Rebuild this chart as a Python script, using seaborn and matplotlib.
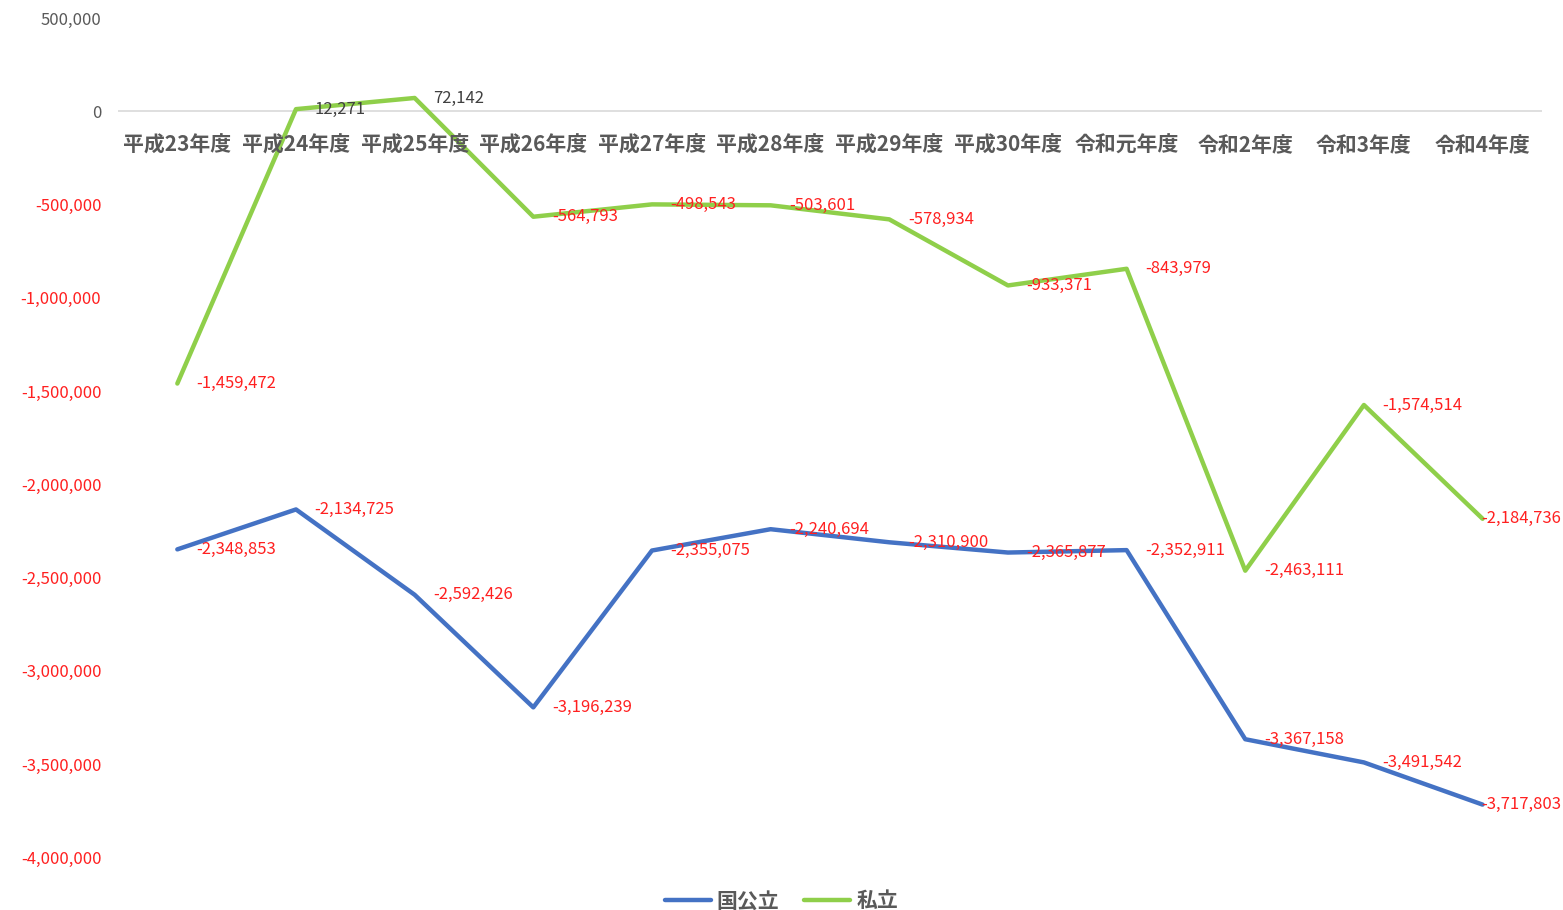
import matplotlib
matplotlib.use("Agg")
import matplotlib.pyplot as plt
import seaborn as sns
import pandas as pd
from matplotlib.ticker import FuncFormatter

categories = ["平成23年度", "平成24年度", "平成25年度", "平成26年度", "平成27年度", "平成28年度",
              "平成29年度", "平成30年度", "令和元年度", "令和2年度", "令和3年度", "令和4年度"]
national = [-2348853, -2134725, -2592426, -3196239, -2355075, -2240694,
            -2310900, -2365877, -2352911, -3367158, -3491542, -3717803]
private = [-1459472, 12271, 72142, -564793, -498543, -503601,
           -578934, -933371, -843979, -2463111, -1574514, -2184736]
series_names = ["国公立", "私立"]
colors = {"国公立": "#4472C4", "私立": "#8FCF4A"}

sns.set_theme(style="white")
plt.rcParams['font.family'] = ['Noto Sans CJK JP', 'DejaVu Sans']

rows = []
for i, c in enumerate(categories):
    rows.append({"x": i, "cat": c, "value": national[i], "series": series_names[0]})
    rows.append({"x": i, "cat": c, "value": private[i], "series": series_names[1]})
df = pd.DataFrame(rows)

fig = plt.figure(figsize=(15.63, 9.10), dpi=100)
ax = fig.add_axes([0.0755, 0.058, 0.911, 0.922])

sns.lineplot(data=df, x="x", y="value", hue="series", palette=colors, linewidth=3.2,
             ax=ax, legend=False, sort=False)

ax.set_xlim(-0.5, len(categories) - 0.5)
ax.set_ylim(-4000000, 500000)
ax.set_yticks(range(-4000000, 500001, 500000))

def fmt(v, pos=None):
    return f"{int(v):,}"
ax.yaxis.set_major_formatter(FuncFormatter(fmt))
ax.tick_params(axis='y', length=0, pad=12, labelsize=12)
for lab, v in zip(ax.get_yticklabels(), ax.get_yticks()):
    lab.set_color("#FF2020" if v < 0 else "#595959")

ax.set_xticks([])
ax.set_xlabel("")
ax.set_ylabel("")
for s in ax.spines.values():
    s.set_visible(False)
ax.axhline(0, color="#D9D9D9", linewidth=1.2, zorder=0)

for i, c in enumerate(categories):
    ax.annotate(c, xy=(i, 0), xytext=(0, -17), textcoords="offset points",
                ha="center", va="top", fontsize=15, fontweight="bold", color="#595959")

last = len(categories) - 1
for vals in (national, private):
    for i, v in enumerate(vals):
        dx = -1 if i == last else 13.5
        ax.annotate(fmt(v), xy=(i, v), xytext=(dx, 0), textcoords="offset points",
                    ha="left", va="center", fontsize=12,
                    color="#FF2020" if v < 0 else "#404040")

handles = [plt.Line2D([], [], color=colors[n], linewidth=3.2) for n in series_names]
fig.legend(handles, series_names, loc="lower center", ncol=2, frameon=False,
           bbox_to_anchor=(0.5, -0.022), prop={"size": 15, "weight": "bold"},
           labelcolor="#595959", handlelength=2.2, columnspacing=1.2, handletextpad=0.3)

fig.savefig("out.png", dpi=100)
